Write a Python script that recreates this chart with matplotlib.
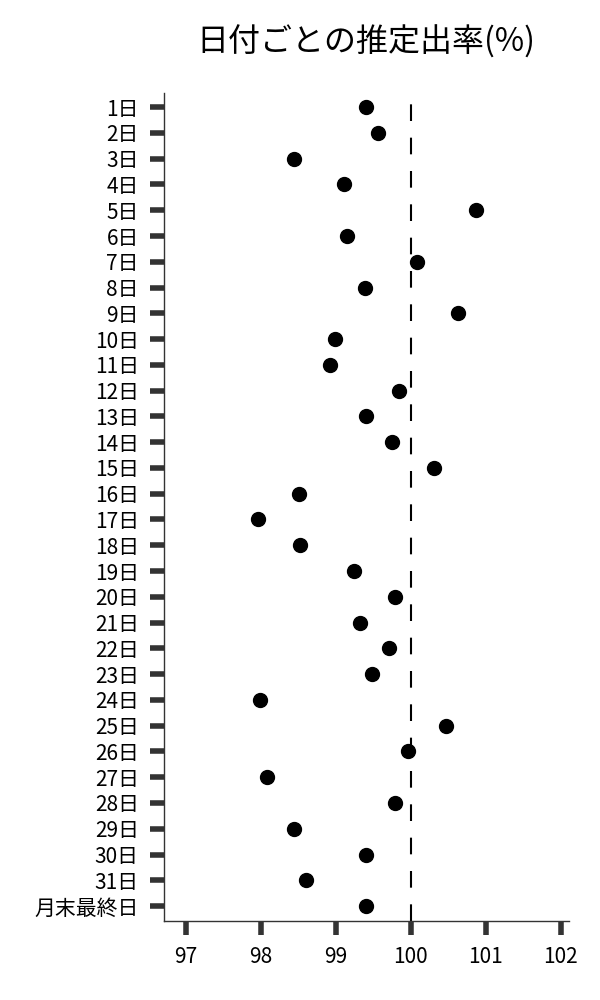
import numpy as np
import matplotlib
matplotlib.use("Agg")
import matplotlib.pyplot as plt

plt.rcParams['font.family'] = ['Noto Sans CJK JP', 'DejaVu Sans']

# 日付ラベルと推定出率
days = [f"{i}日" for i in range(1, 32)] + ["月末最終日"]
rates = [99.41, 99.56, 98.45, 99.11, 100.87, 99.15, 100.09, 99.39, 100.63, 98.99,
         98.92, 99.84, 99.41, 99.75, 100.31, 98.51, 97.96, 98.52, 99.24, 99.79,
         99.33, 99.71, 99.48, 97.99, 100.47, 99.96, 98.09, 99.79, 98.45, 99.41,
         98.61, 99.41]
xticks = [97, 98, 99, 100, 101, 102]
ref_value = 100

fig = plt.figure(figsize=(6, 10), dpi=100)
ax = fig.add_axes([0.273, 0.079, 0.675, 0.828])

ypos = np.arange(len(days))
ax.plot(rates, ypos, 'o', color='black', markersize=10)
ax.axvline(ref_value, color='black', lw=1.5, linestyle=(0, (8, 8)))

ax.set_yticks(ypos)
ax.set_yticklabels(days)
ax.set_xticks(xticks)
ax.set_xlim(96.71, 102.11)
ax.set_ylim(len(days) - 1 + 0.58, -0.55)

ax.tick_params(axis='both', length=10, width=4, color='#333333',
               labelsize=15, pad=8)
for s in ['top', 'right']:
    ax.spines[s].set_visible(False)
for s in ['left', 'bottom']:
    ax.spines[s].set_color('#333333')
    ax.spines[s].set_linewidth(1)

fig.text(0.61, 0.958, "日付ごとの推定出率(%)", ha='center', va='center', fontsize=23)

fig.savefig("out.png", dpi=100)
